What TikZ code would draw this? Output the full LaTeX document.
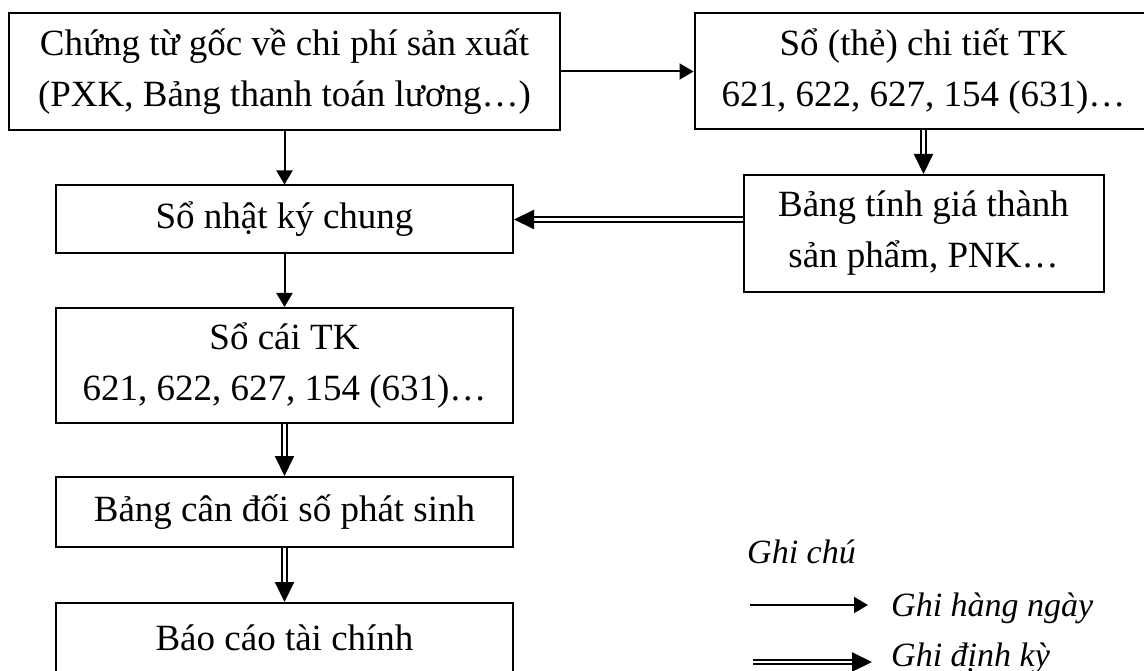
\documentclass[tikz,border=0pt]{standalone}
\usepackage{fontspec}
\setmainfont{Liberation Serif}
\usetikzlibrary{arrows.meta, positioning}

\tikzset{
  box/.style={draw, line width=2pt, inner sep=0pt, align=center,
    font=\fontsize{37}{51}\selectfont},
  note/.style={anchor=base west, inner sep=0pt,
    font=\fontsize{34}{47}\selectfont\itshape},
  single/.style={line width=2pt, -{Triangle[length=14pt,width=16pt]}},
  twin/.style={double, double distance=2.5pt, line width=2pt,
    -{Triangle[length=20pt,width=19pt]}},
}

\begin{document}
\begin{tikzpicture}[x=1pt, y=-1pt]
\useasboundingbox (0,0) rectangle (1144,671);

% nodes
\node[box, minimum width=551pt, minimum height=117pt] (A) at (284.5, 71.5)
  {Chứng từ gốc về chi phí sản xuất\\(PXK, Bảng thanh toán lương…)};
\node[box, minimum width=458pt, minimum height=116pt] (B) at (923.5, 71.5)
  {Sổ (thẻ) chi tiết TK\\621, 622, 627, 154 (631)…};
\node[box, minimum width=457pt, minimum height=68pt] (C) at (284.5, 219.5)
  {Sổ nhật ký chung};
\node[box, minimum width=360pt, minimum height=117pt] (D) at (923.5, 233.5)
  {Bảng tính giá thành\\sản phẩm, PNK…};
\node[box, minimum width=457pt, minimum height=115pt] (E) at (284.5, 365.5)
  {Sổ cái TK\\621, 622, 627, 154 (631)…};
\node[box, minimum width=457pt, minimum height=70pt] (F) at (284.5, 512)
  {Bảng cân đối số phát sinh};
\node[box, minimum width=457pt, minimum height=70pt] (G) at (284.5, 638)
  {Báo cáo tài chính};

% legend
\node[note] (N) at (747, 563) {Ghi chú};
\node[note] (N1) at (891, 616) {Ghi hàng ngày};
\node[note] (N2) at (891, 666) {Ghi định kỳ};
\coordinate (L1) at (750, 605);
\coordinate (R1) at (868, 605);
\coordinate (L2) at (753, 662);
\coordinate (R2) at (872, 662);

% arrows
\draw[single] (A) -- (B);
\draw[single] (A) -- (C);
\draw[twin] (B) -- (D);
\draw[twin] (D.west |- C) -- (C);
\draw[single] (C) -- (E);
\draw[twin] (E) -- (F);
\draw[twin] (F) -- (G);

\draw[single] (L1) -- (R1);
\draw[twin] (L2) -- (R2);

\end{tikzpicture}
\end{document}
